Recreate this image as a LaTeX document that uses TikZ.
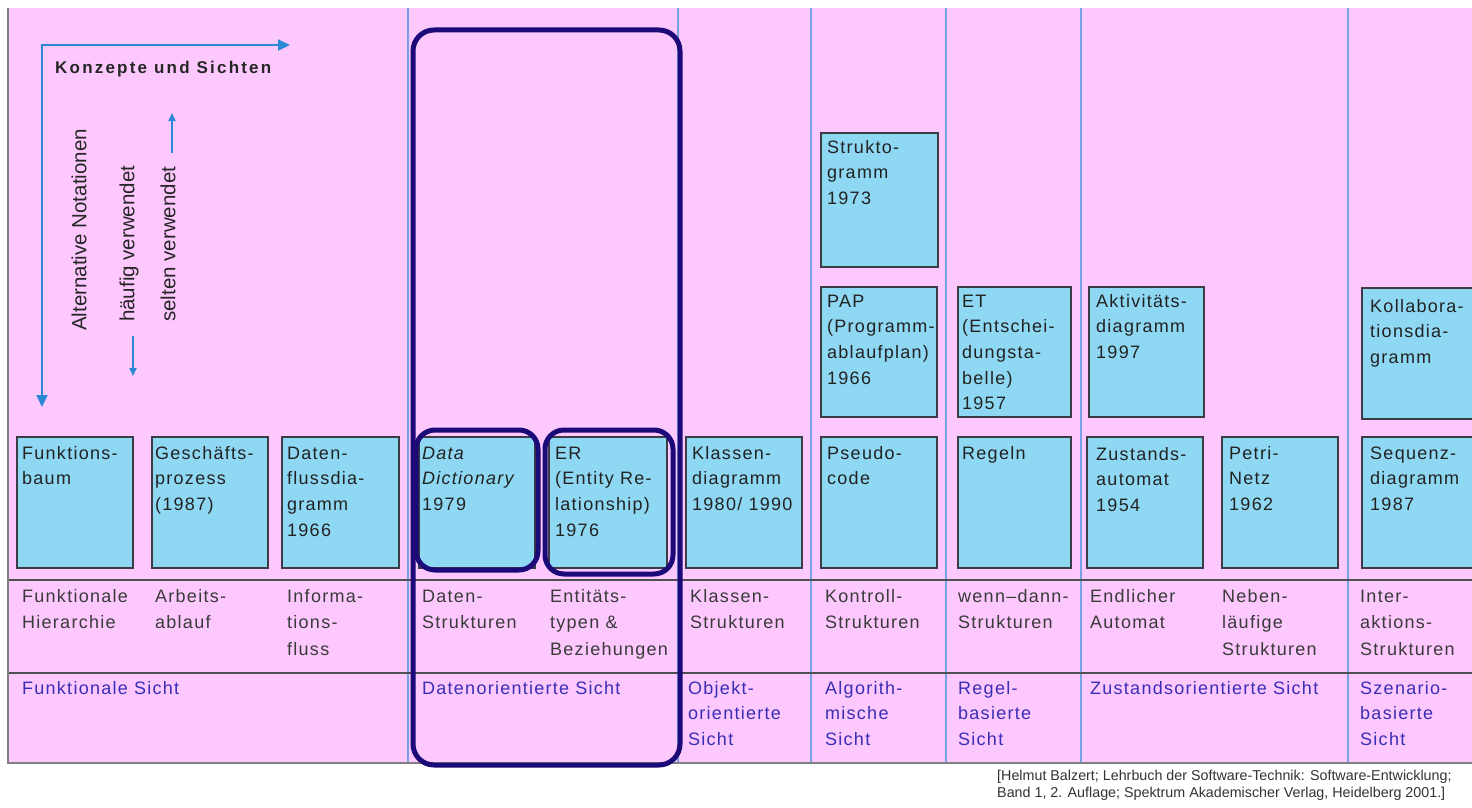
\documentclass[tikz,border=0pt]{standalone}
\usepackage{fontspec}
\setmainfont{Liberation Sans}
\newfontfamily\spacedfont[LetterSpace=7]{Liberation Sans}
\newfontfamily\titlefont[LetterSpace=13]{Liberation Sans}
\usetikzlibrary{arrows.meta,calc}

\definecolor{bgpink}{HTML}{FDC8FD}
\definecolor{notefill}{HTML}{8FD8F4}
\definecolor{noteline}{HTML}{3C3C46}
\definecolor{colline}{HTML}{78A2E6}
\definecolor{rowline}{HTML}{505050}
\definecolor{focusline}{HTML}{1C0A78}
\definecolor{arrowblue}{HTML}{2A88D4}
\definecolor{viewblue}{HTML}{3A2DB6}
\definecolor{conctext}{HTML}{3A3A3A}
\definecolor{notetext}{HTML}{222222}

% stacked lines whose baseline is the first line
\newcommand\ml[1]{\begin{tabular}[t]{@{}l@{}}#1\end{tabular}}

% one notation box: name, x, y, width, height, text dx, text dy, text
\newcommand\notation[8]{%
  \node[nbox, minimum width=#4pt, minimum height=#5pt, anchor=north west] (#1) at (#2,#3) {};
  \node[btext] (#1-txt) at ($(#1.north west)+(#6,#7)$) {\ml{#8}};
}

\begin{document}
\begin{tikzpicture}[x=1pt,y=-1pt,
  nbox/.style={draw=noteline, line width=1.3pt, fill=notefill, inner sep=0pt, outer sep=0pt},
  btext/.style={anchor=base west, inner sep=0pt, text=notetext,
    font=\spacedfont\fontsize{18}{25.7}\selectfont},
  ctext/.style={anchor=base west, inner sep=0pt, text=conctext,
    font=\spacedfont\fontsize{18}{26.5}\selectfont},
  vtext/.style={anchor=base west, inner sep=0pt, text=viewblue,
    font=\spacedfont\fontsize{18}{25.5}\selectfont},
  rtext/.style={rotate=90, anchor=west, inner sep=0pt, text=black!85,
    font=\fontsize{20.5}{24}\selectfont},
  colsep/.style={draw=colline, line width=2pt},
  rowsep/.style={draw=rowline, line width=2pt},
  focusbox/.style={draw=focusline, line width=5pt, rounded corners=21pt},
  bigarrow/.style={draw=arrowblue, line width=2pt,
    {Triangle[length=12pt,width=11pt]}-{Triangle[length=12pt,width=11pt]}},
  smallarrow/.style={draw=arrowblue, line width=1.8pt,
    -{Triangle[length=8pt,width=7pt]}},
]
\useasboundingbox (0,0) rectangle (1472,808);
\begin{scope}
\clip (0,0) rectangle (1472,808);
\fill[white] (0,0) rectangle (1472,808);
\fill[bgpink] (8,8) rectangle (1472,763);

% column and row separators
\foreach \x in {408,678,811,946,1081,1348}
  \draw[colsep] (\x,8) -- (\x,763);
\draw[rowsep] (8,580) -- (1472,580);
\draw[rowsep] (8,673) -- (1472,673);
\draw[draw=gray, line width=2pt] (8,8) -- (8,763) -- (1472,763);

% axes of the overview
\coordinate (corner) at (42,45);
\coordinate (xend) at (290,45);
\coordinate (yend) at (42,407);
\draw[bigarrow] (yend) -- (corner) -- (xend);
\node[anchor=base west, inner sep=0pt, text=black!85,
  font=\titlefont\bfseries\fontsize{17}{20}\selectfont] (title) at (55,74) {Konzepte und Sichten};

\node[rtext] (alt) at (79,331) {Alternative Notationen};
\node[rtext] (often) at (129,322) {häufig verwendet};
\node[rtext] (rare) at (168,322) {selten verwendet};
\coordinate (often-a) at (133,336);
\coordinate (often-b) at (133,376);
\coordinate (rare-a) at (172,153);
\coordinate (rare-b) at (172,113);
\draw[smallarrow] (often-a) -- (often-b);
\draw[smallarrow] (rare-a) -- (rare-b);

% notation boxes, lower row
\notation{fb}{17}{437}{116}{131}{5}{22}{Funktions-\\baum}
\notation{gp}{152}{437}{116}{131}{3}{22}{Geschäfts-\\prozess\\(1987)}
\notation{dfd}{282}{437}{117}{131}{5}{22}{Daten-\\flussdia-\\gramm\\1966}
\notation{dd}{419}{437}{116}{131}{3}{22}{\itshape Data\\\itshape Dictionary\\1979}
\notation{er}{549}{437}{118}{131}{6}{22}{ER\\(Entity Re-\\lationship)\\1976}
\notation{kd}{686}{437}{116}{131}{6}{22}{Klassen-\\diagramm\\1980/ 1990}
\notation{pc}{821}{437}{116}{131}{6}{22}{Pseudo-\\code}
\notation{rg}{958}{437}{113}{131}{4}{22}{Regeln}
\notation{za}{1087}{437}{116}{131}{9}{23}{Zustands-\\automat\\1954}
\notation{pn}{1222}{437}{116}{131}{7}{22}{Petri-\\Netz\\1962}
\notation{sd}{1362}{437}{130}{131}{8}{22}{Sequenz-\\diagramm\\1987}

% notation boxes, middle and upper rows
\notation{pap}{821}{287}{116}{130}{6}{20}{PAP\\(Programm-\\ablaufplan)\\1966}
\notation{et}{958}{287}{113}{130}{4}{20}{ET\\(Entschei-\\dungsta-\\belle)\\1957}
\notation{ad}{1089}{287}{115}{130}{7}{20}{Aktivitäts-\\diagramm\\1997}
\notation{kol}{1362}{288}{130}{131}{8}{24}{Kollabora-\\tionsdia-\\gramm}
\notation{sg}{821}{133}{117}{134}{6}{20}{Strukto-\\gramm\\1973}

% concepts
\node[ctext] (c1) at (22,602) {\ml{Funktionale\\Hierarchie}};
\node[ctext] (c2) at (155,602) {\ml{Arbeits-\\ablauf}};
\node[ctext] (c3) at (287,602) {\ml{Informa-\\tions-\\fluss}};
\node[ctext] (c4) at (422,602) {\ml{Daten-\\Strukturen}};
\node[ctext] (c5) at (550,602) {\ml{Entitäts-\\typen \&\\Beziehungen}};
\node[ctext] (c6) at (690,602) {\ml{Klassen-\\Strukturen}};
\node[ctext] (c7) at (825,602) {\ml{Kontroll-\\Strukturen}};
\node[ctext] (c8) at (958,602) {\ml{wenn–dann-\\Strukturen}};
\node[ctext] (c9) at (1090,602) {\ml{Endlicher\\Automat}};
\node[ctext] (c10) at (1222,602) {\ml{Neben-\\läufige\\Strukturen}};
\node[ctext] (c11) at (1360,602) {\ml{Inter-\\aktions-\\Strukturen}};

% views
\node[vtext] (v1) at (22,694) {Funktionale Sicht};
\node[vtext] (v2) at (422,694) {Datenorientierte Sicht};
\node[vtext] (v3) at (688,694) {\ml{Objekt-\\orientierte\\Sicht}};
\node[vtext] (v4) at (825,694) {\ml{Algorith-\\mische\\Sicht}};
\node[vtext] (v5) at (958,694) {\ml{Regel-\\basierte\\Sicht}};
\node[vtext] (v6) at (1090,694) {Zustandsorientierte Sicht};
\node[vtext] (v7) at (1360,694) {\ml{Szenario-\\basierte\\Sicht}};

% highlighted data-oriented view
\draw[focusbox] (413,30) rectangle (680,765);
\draw[focusbox, rounded corners=19pt] (416,430) rectangle (538,570);
\draw[focusbox, rounded corners=19pt] (545,430) rectangle (673,574);

% source
\node[anchor=base west, inner sep=0pt, text=black!80,
  font=\fontsize{14.3}{17}\selectfont] (src) at (997,780)
  {\ml{[Helmut Balzert; Lehrbuch der Software-Technik: Software-Entwicklung;\\
   Band 1, 2. Auflage; Spektrum Akademischer Verlag, Heidelberg 2001.]}};
\end{scope}
\end{tikzpicture}
\end{document}
